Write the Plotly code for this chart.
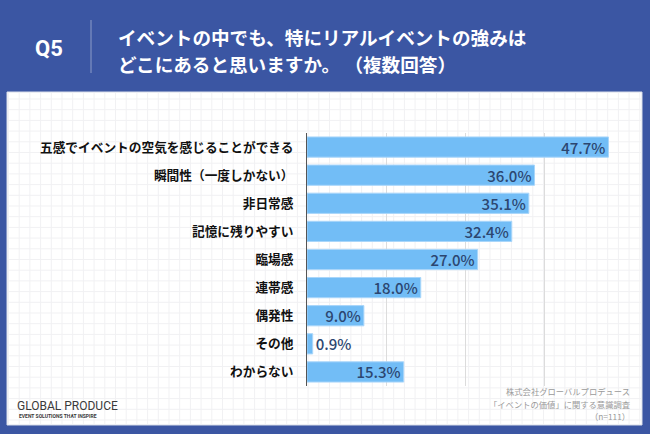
import plotly.graph_objects as go

categories = ["五感でイベントの空気を感じることができる", "瞬間性（一度しかない）", "非日常感",
              "記憶に残りやすい", "臨場感", "連帯感", "偶発性", "その他", "わからない"]
values = [47.7, 36.0, 35.1, 32.4, 27.0, 18.0, 9.0, 0.9, 15.3]
text_labels = [f"{v:.1f}%" for v in values]
title_lines = ["イベントの中でも、特にリアルイベントの強みは", "どこにあると思いますか。 （複数回答）"]
source_lines = ["株式会社グローバルプロデュース", "「イベントの価値」に関する意識調査", "（n=111）"]

BLUE = "#3b56a3"
FONT = "Noto Sans CJK JP"
LBL = dict(family=FONT, size=15, color="#2c4670", weight=500)

positions = ["inside" if v > 5 else "outside" for v in values]

fig = go.Figure(go.Bar(
    x=values, y=categories, orientation="h",
    marker=dict(color="#72bdf6", line=dict(color="#a9d6fa", width=1)),
    width=0.72,
    text=text_labels, textposition=positions, insidetextanchor="end",
    constraintext="none",
    textfont=LBL, insidetextfont=LBL, outsidetextfont=LBL,
    cliponaxis=False,
))

W, H = 650, 434
L, R, T, B = 307, 623, 133, 386
PW, PH = R - L, B - T


def px(x):
    return (x - L) / PW


def py(y):
    return (B - y) / PH


shapes = []
# white panel
shapes.append(dict(type="rect", xref="paper", yref="paper",
                   x0=px(7), x1=px(642), y0=py(425), y1=py(92),
                   fillcolor="white", line=dict(color="#d8dce8", width=1), layer="below"))
# graph paper pattern
gx = 8.5
while gx < 642:
    shapes.append(dict(type="line", xref="paper", yref="paper",
                       x0=px(gx), x1=px(gx), y0=py(424), y1=py(93),
                       line=dict(color="#f1f1f3", width=1), layer="below"))
    gx += 10.7
gy = 99
while gy < 425:
    shapes.append(dict(type="line", xref="paper", yref="paper",
                       x0=px(8), x1=px(641), y0=py(gy), y1=py(gy),
                       line=dict(color="#f1f1f3", width=1), layer="below"))
    gy += 10.7
# header divider
shapes.append(dict(type="line", xref="paper", yref="paper",
                   x0=px(91), x1=px(91), y0=py(20), y1=py(73),
                   line=dict(color="#8d9cc8", width=1)))

annotations = [
    dict(text="<b>Q5</b>", x=px(48.5), y=py(49), xref="paper", yref="paper",
         showarrow=False, font=dict(family="Roboto", size=22, color="white"),
         xanchor="center", yanchor="middle"),
    dict(text="<b>" + title_lines[0] + "</b>", x=px(116), y=py(37), xref="paper", yref="paper",
         showarrow=False, font=dict(family=FONT, size=18.6, color="white"),
         xanchor="left", yanchor="middle"),
    dict(text="<b>" + title_lines[1] + "</b>", x=px(116), y=py(63), xref="paper", yref="paper",
         showarrow=False, font=dict(family=FONT, size=18.6, color="white"),
         xanchor="left", yanchor="middle"),
    dict(text="GLOBAL PRODUCE", x=px(15), y=py(406), xref="paper", yref="paper",
         showarrow=False, font=dict(family="Roboto", size=12, color="#3a3a3a"),
         xanchor="left", yanchor="middle"),
    dict(text="<b>EVENT SOLUTIONS THAT INSPIRE</b>", x=px(17), y=py(416), xref="paper", yref="paper",
         showarrow=False, font=dict(family="Roboto", size=5, color="#3a3a3a"),
         xanchor="left", yanchor="middle"),
]
for i, line in enumerate(source_lines):
    annotations.append(dict(text=line, x=px(632), y=py(391 + 12.5 * i), xref="paper", yref="paper",
                            showarrow=False, font=dict(family=FONT, size=8.3, color="#9a9a9a"),
                            xanchor="right", yanchor="middle"))

fig.update_layout(
    width=W, height=H,
    margin=dict(l=L, r=W - R, t=T, b=H - B, pad=0),
    paper_bgcolor=BLUE, plot_bgcolor="rgba(0,0,0,0)",
    showlegend=False,
    shapes=shapes, annotations=annotations,
    xaxis=dict(range=[0, 50], dtick=12.5, showticklabels=False, showgrid=True,
               gridcolor="#dcdcdc", gridwidth=1, zeroline=False, fixedrange=True,
               automargin=False),
    yaxis=dict(autorange="reversed", showline=True, linecolor="#555555", linewidth=1,
               tickfont=dict(family=FONT, size=12.7, color="#111111"),
               ticklabelstandoff=10, showgrid=False, fixedrange=True, automargin=False,
               tickprefix="<b>", ticksuffix="</b>"),
)

fig.write_html("out.html", config={"displayModeBar": False},
               post_script="document.body.style.margin='0';document.body.style.overflow='hidden';")
